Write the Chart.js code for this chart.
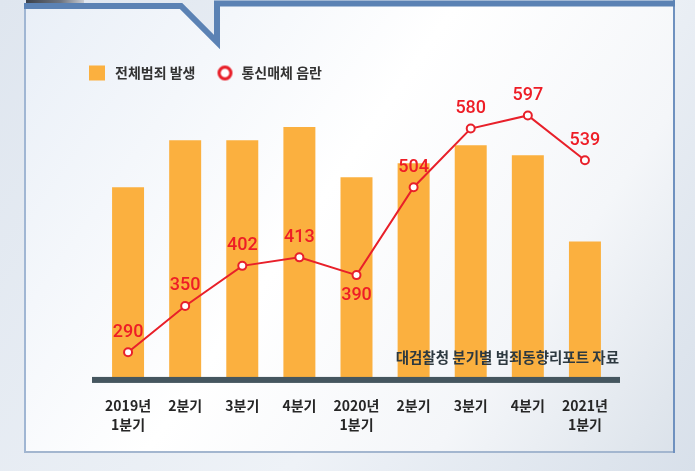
<!DOCTYPE html>
<html lang="ko">
<head>
<meta charset="utf-8">
<script src="https://cdn.jsdelivr.net/npm/chart.js@4.4.1/dist/chart.umd.min.js"></script>
<style>
  html, body { margin: 0; padding: 0; background: #e3e9f1; }
  #wrap { width: 695px; height: 471px; }
</style>
</head>
<body>
<div id="wrap"><canvas id="chart"></canvas></div>
<script>
// data
const quarters = [["2019년", "1분기"], "2분기", "3분기", "4분기", ["2020년", "1분기"], "2분기", "3분기", "4분기", ["2021년", "1분기"]];
// 전체범죄 발생: no numbers printed, relative bar heights
const totalCrime = [37.8, 47.2, 47.2, 49.8, 39.8, 42.6, 46.2, 44.2, 27.0];
// 통신매체 음란
const obscenity = [290, 350, 402, 413, 390, 504, 580, 597, 539];
const seriesNames = ["전체범죄 발생", "통신매체 음란"];
const sourceNote = "대검찰청 분기별 범죄동향리포트 자료";
const labelsBelow = [4]; // 390 sits under its point

const ORANGE = "#fbb03f";
const RED = "#e8202a";
const KR = '"Noto Sans CJK KR", "Noto Sans", sans-serif';

// legend marks as small canvases
function legendRect(){
    const c = document.createElement("canvas");
    c.width = 19; c.height = 16;
    const g = c.getContext("2d");
    g.fillStyle = ORANGE;
    g.fillRect(0, 0.5, 16, 15);
    return c;
}
function legendRing(){
    const c = document.createElement("canvas");
    c.width = 19; c.height = 19;
    const g = c.getContext("2d");
    g.beginPath();
    g.arc(9.5, 9.5, 5.9, 0, Math.PI * 2);
    g.fillStyle = "#fff";
    g.fill();
    g.lineWidth = 3.2;
    g.strokeStyle = RED;
    g.stroke();
    return c;
}

// frame with the speech bubble notch
const framePlugin = {
    id: "frame",
    beforeDraw(chart){
        const ctx = chart.ctx;
        ctx.save();
        let g = ctx.createLinearGradient(0, 0, 695, 471);
        g.addColorStop(0, "#dfe6ef");
        g.addColorStop(0.6, "#eef2f7");
        g.addColorStop(1, "#d8e0ea");
        ctx.fillStyle = g;
        ctx.fillRect(0, 0, 695, 471);

        g = ctx.createLinearGradient(25, 3, 674, 453);
        g.addColorStop(0, "#e9eff7");
        g.addColorStop(0.45, "#ffffff");
        g.addColorStop(0.75, "#f4f6f9");
        g.addColorStop(1, "#dbe2ea");
        ctx.fillStyle = g;
        ctx.beginPath();
        ctx.moveTo(25, 6); ctx.lineTo(181, 6); ctx.lineTo(217, 42); ctx.lineTo(217, 3);
        ctx.lineTo(674, 3); ctx.lineTo(674, 453); ctx.lineTo(25, 453);
        ctx.closePath();
        ctx.fill();

        ctx.fillStyle = "#a0b6d3";
        ctx.fillRect(24, 4, 2, 449);
        ctx.fillStyle = "#a3b6cf";
        ctx.fillRect(25, 451, 650, 2);
        ctx.fillStyle = "#6f91bf";
        ctx.fillRect(673, 0, 2, 453);

        ctx.strokeStyle = "#5b82b4";
        ctx.lineWidth = 6;
        ctx.beginPath();
        ctx.moveTo(24, 6); ctx.lineTo(181, 6); ctx.lineTo(217, 42); ctx.lineTo(217, 3.5); ctx.lineTo(675, 3.5);
        ctx.stroke();

        // bit of the photo above the frame
        g = ctx.createLinearGradient(26, 0, 84, 0);
        g.addColorStop(0, "#3b414b");
        g.addColorStop(0.6, "#6d7480");
        g.addColorStop(1, "#c9ccd2");
        ctx.fillStyle = g;
        ctx.fillRect(26, 0, 58, 3);
        ctx.restore();
    }
};

// base line, source note and value labels
const overlayPlugin = {
    id: "overlay",
    afterDatasetsDraw(chart){
        const ctx = chart.ctx;
        const ca = chart.chartArea;
        ctx.save();
        ctx.fillStyle = "#45565f";
        ctx.fillRect(ca.left - 7.5, ca.bottom, ca.right - ca.left + 14, 6);

        ctx.font = "bold 14.5px " + KR;
        ctx.fillStyle = "#2d3940";
        ctx.textAlign = "right";
        ctx.textBaseline = "middle";
        ctx.fillText(sourceNote, ca.right + 5.5, ca.bottom - 19);

        const meta = chart.getDatasetMeta(1);
        ctx.font = '500 18px Roboto, "Noto Sans", sans-serif';
        ctx.fillStyle = "#ee1d26";
        ctx.textAlign = "center";
        meta.data.forEach((pt, i) => {
            const dy = labelsBelow.includes(i) ? 20 : -20;
            ctx.fillText(String(obscenity[i]), pt.x, pt.y + dy);
        });
        ctx.restore();
    }
};

const rectMark = legendRect();
const ringMark = legendRing();

new Chart(document.getElementById("chart"), {
    type: "bar",
    data: {
        labels: quarters,
        datasets: [{
            type: "bar",
            label: seriesNames[0],
            data: totalCrime,
            backgroundColor: ORANGE,
            barPercentage: 0.56,
            categoryPercentage: 1,
            yAxisID: "y",
            order: 1
        }, {
            type: "line",
            label: seriesNames[1],
            data: obscenity,
            borderColor: RED,
            borderWidth: 2,
            pointRadius: 4,
            pointBorderWidth: 2,
            pointBackgroundColor: "#fff",
            pointBorderColor: RED,
            tension: 0,
            yAxisID: "y2",
            order: 0
        }]
    },
    options: {
        responsive: true,
        maintainAspectRatio: false,
        animation: false,
        layout: { padding: { left: 69, right: 81.5, top: 46, bottom: 18 } },
        plugins: {
            tooltip: { enabled: false },
            legend: {
                position: "top",
                align: "start",
                labels: {
                    usePointStyle: true,
                    pointStyleWidth: 19,
                    padding: 20,
                    color: "#333",
                    font: { family: KR, size: 14, weight: "bold" },
                    generateLabels(){
                        return [
                            { text: seriesNames[0], pointStyle: rectMark, fontColor: "#333", lineWidth: 0, hidden: false, datasetIndex: 0 },
                            { text: seriesNames[1], pointStyle: ringMark, fontColor: "#333", lineWidth: 0, hidden: false, datasetIndex: 1 }
                        ];
                    }
                }
            }
        },
        scales: {
            x: {
                offset: true,
                grid: { display: false, drawTicks: false, tickLength: 0 },
                border: { display: false },
                ticks: {
                    color: "#262626",
                    padding: 19,
                    autoSkip: false,
                    maxRotation: 0,
                    font: { family: KR, size: 14, weight: "bold", lineHeight: 1.36 }
                }
            },
            y: {
                position: "left",
                min: 0,
                max: 57.2,
                grid: { display: false },
                border: { display: false },
                ticks: { display: false },
                afterFit(scale){ scale.width = 30.5; }
            },
            y2: {
                display: false,
                position: "right",
                min: 258,
                max: 630
            }
        }
    },
    plugins: [framePlugin, overlayPlugin]
});
</script>
</body>
</html>
